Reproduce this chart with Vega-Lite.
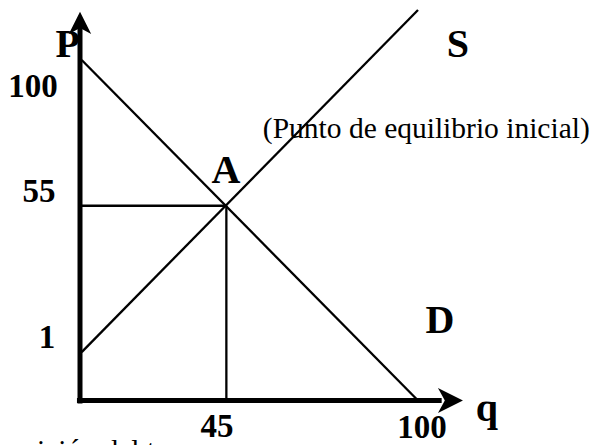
{
  "$schema": "https://vega.github.io/schema/vega-lite/v6.json",
  "width": 594,
  "height": 445,
  "autosize": {"type": "none"},
  "padding": 0,
  "background": "white",
  "config": {"view": {"stroke": null}},
  "datasets": {
    "curves": [
      {"s": "D", "q": 0.5, "p": 100},
      {"s": "D", "q": 100, "p": 0},
      {"s": "S", "q": 0.5, "p": 14.2},
      {"s": "S", "q": 100, "p": 114.7},
      {"s": "v", "q": 43.3, "p": 0},
      {"s": "v", "q": 43.3, "p": 57.2},
      {"s": "h", "q": 0, "p": 57.2},
      {"s": "h", "q": 43.3, "p": 57.2}
    ],
    "axes": [
      {"s": "x", "q": -0.9, "p": 0},
      {"s": "x", "q": 107, "p": 0},
      {"s": "y", "q": 0, "p": -0.9},
      {"s": "y", "q": 0, "p": 110}
    ],
    "xarrow": [{"q": 109.6, "p": 0}],
    "yarrow": [{"q": 0, "p": 110.9}],
    "numbers": [
      {"label": "100", "q": -13.9, "p": 89.1},
      {"label": "55", "q": -12.1, "p": 58.3},
      {"label": "1", "q": -9.8, "p": 15.4},
      {"label": "45", "q": 40.5, "p": -10.7},
      {"label": "100", "q": 101.2, "p": -10.9}
    ],
    "letters": [
      {"label": "P", "q": -3.6, "p": 100.9},
      {"label": "A", "q": 43.2, "p": 63.9},
      {"label": "S", "q": 111.8, "p": 100.9},
      {"label": "D", "q": 106.5, "p": 19.8},
      {"label": "q", "q": 120.4, "p": -6.0}
    ],
    "notes": [
      {"label": "(Punto de equilibrio inicial)", "q": 54.1, "p": 77.1},
      {"label": "ición del t", "q": -12.7, "p": -17.5}
    ]
  },
  "layer": [
    {
      "data": {"name": "curves"},
      "mark": {"type": "line", "color": "black", "strokeWidth": 2.3},
      "encoding": {
        "x": {"field": "q", "type": "quantitative", "scale": {"domain": [-23.67, 152.07], "nice": false, "zero": false}, "axis": null},
        "y": {"field": "p", "type": "quantitative", "scale": {"domain": [-13.07, 117.62], "nice": false, "zero": false}, "axis": null},
        "detail": {"field": "s"}
      }
    },
    {
      "data": {"name": "axes"},
      "mark": {"type": "line", "color": "black", "strokeWidth": 5},
      "encoding": {
        "x": {"field": "q", "type": "quantitative"},
        "y": {"field": "p", "type": "quantitative"},
        "detail": {"field": "s"}
      }
    },
    {
      "data": {"name": "xarrow"},
      "mark": {"type": "point", "shape": "M-1,-1L1,0L-1,1L-0.45,0Z", "filled": true, "color": "black", "size": 625, "opacity": 1},
      "encoding": {
        "x": {"field": "q", "type": "quantitative"},
        "y": {"field": "p", "type": "quantitative"}
      }
    },
    {
      "data": {"name": "yarrow"},
      "mark": {"type": "point", "shape": "M-1,1L0,-1L1,1L0,0.45Z", "filled": true, "color": "black", "size": 500, "opacity": 1},
      "encoding": {
        "x": {"field": "q", "type": "quantitative"},
        "y": {"field": "p", "type": "quantitative"}
      }
    },
    {
      "data": {"name": "numbers"},
      "mark": {"type": "text", "font": "Liberation Serif", "fontWeight": "bold", "fontSize": 33, "align": "center", "baseline": "alphabetic", "color": "black"},
      "encoding": {
        "x": {"field": "q", "type": "quantitative"},
        "y": {"field": "p", "type": "quantitative"},
        "text": {"field": "label"}
      }
    },
    {
      "data": {"name": "letters"},
      "mark": {"type": "text", "font": "Liberation Serif", "fontWeight": "bold", "fontSize": 40, "align": "center", "baseline": "alphabetic", "color": "black"},
      "encoding": {
        "x": {"field": "q", "type": "quantitative"},
        "y": {"field": "p", "type": "quantitative"},
        "text": {"field": "label"}
      }
    },
    {
      "data": {"name": "notes"},
      "mark": {"type": "text", "font": "Liberation Serif", "fontSize": 29.5, "align": "left", "baseline": "alphabetic", "color": "black"},
      "encoding": {
        "x": {"field": "q", "type": "quantitative"},
        "y": {"field": "p", "type": "quantitative"},
        "text": {"field": "label"}
      }
    }
  ]
}
